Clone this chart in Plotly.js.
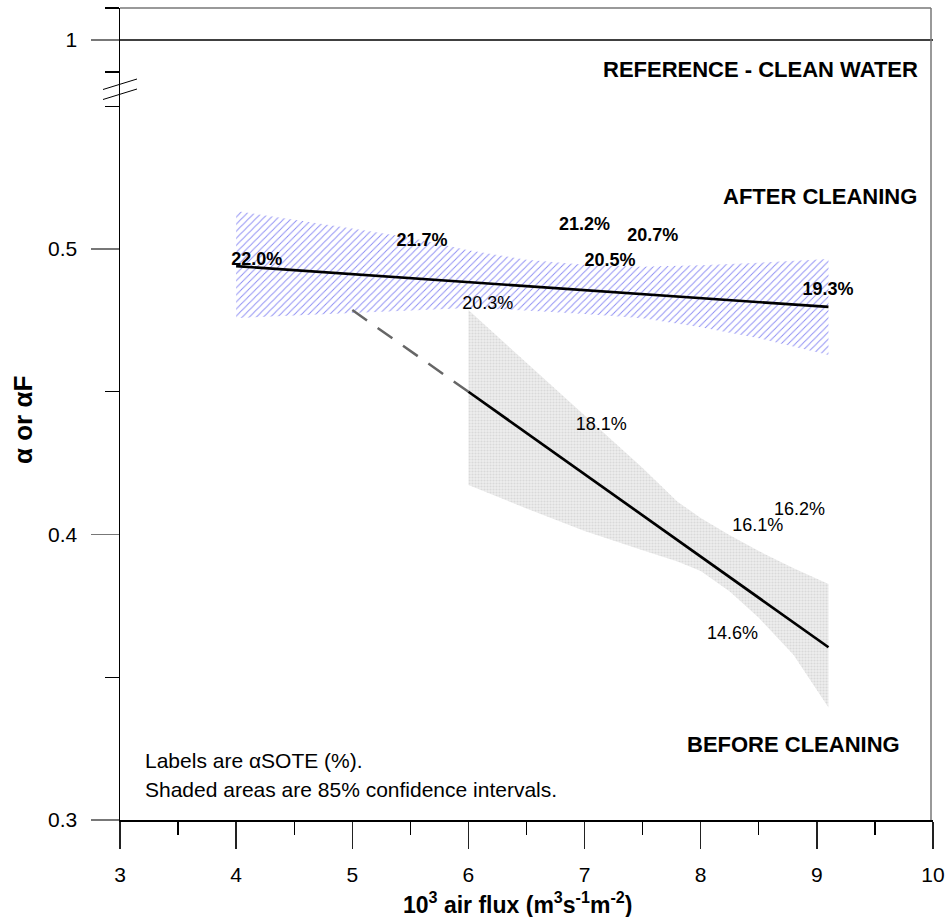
<!DOCTYPE html>
<html>
<head>
<meta charset="utf-8">
<script src="https://cdn.plot.ly/plotly-3.0.1.min.js"></script>
<style>
  html, body { margin: 0; padding: 0; background: #fff; }
  #chart { width: 948px; height: 917px; }
</style>
</head>
<body>
<div id="chart"></div>
<script>
// Air flux (10^3 m3 s-1 m-2) against alpha / alpha-F, before and after diffuser cleaning.

// Regression line after cleaning
const fluxAfterFit = [4, 9.1];
const alphaAfterFit = [0.494, 0.4797];

// Regression line before cleaning (solid over the data range, dashed extrapolation)
const fluxBeforeFit = [6, 9.1];
const alphaBeforeFit = [0.450, 0.3605];
const fluxBeforeExtrap = [5, 6];
const alphaBeforeExtrap = [0.4786, 0.450];

// 85% confidence band, after cleaning
const ciAfterFlux = [4, 4.5, 5, 5.5, 6, 6.5, 7, 7.5, 8, 8.5, 9.1];
const ciAfterUpper = [0.5133, 0.5103, 0.5072, 0.5039, 0.4996, 0.4962, 0.4945, 0.4938, 0.4943, 0.4952, 0.4965];
const ciAfterLower = [0.4758, 0.4767, 0.4776, 0.4785, 0.4793, 0.4785, 0.4772, 0.4757, 0.4726, 0.4687, 0.4629];

// 85% confidence band, before cleaning
const ciBeforeFlux = [6, 6.5, 7, 7.5, 7.8, 8, 8.25, 8.5, 8.8, 9.1];
const ciBeforeUpper = [0.4786, 0.4602, 0.4418, 0.4233, 0.4115, 0.4058, 0.3997, 0.3942, 0.3882, 0.3827];
const ciBeforeLower = [0.4173, 0.4091, 0.4012, 0.3945, 0.3905, 0.3872, 0.3800, 0.3708, 0.3578, 0.3394];

// alpha-SOTE labels (%)
const afterLabelText = ['22.0%', '21.7%', '21.2%', '20.7%', '20.5%', '19.3%'];
const afterLabelFlux = [4.177, 5.600, 7.000, 7.588, 7.219, 9.096];
const afterLabelAlpha = [0.4958, 0.5028, 0.5084, 0.5044, 0.4956, 0.4854];

const beforeLabelText = ['20.3%', '18.1%', '16.2%', '16.1%', '14.6%'];
const beforeLabelFlux = [6.167, 7.143, 8.851, 8.492, 8.274];
const beforeLabelAlpha = [0.4804, 0.4382, 0.4085, 0.4027, 0.3648];

// Clean-water reference
const referenceAlpha = 1;
const referenceFlux = [3, 10];

// Y ticks (values above the axis break are compressed)
const yTickValues = [0.3, 0.4, 0.5, 1];
const yTickLabels = ['0.3', '0.4', '0.5', '1'];
const yMinorValues = [0.35, 0.45, 0.55, 0.95, 1.05];

// Broken axis: values up to 0.6 are plotted as-is, values near 1 are shifted down.
const BREAK_POS = 0.5732;
const UPPER_SCALE = 0.2242;
function toAxis(v) {
  return v <= 0.6 ? v : BREAK_POS + (v - 1) * UPPER_SCALE;
}

const FONT = 'Liberation Sans, Arial, Helvetica, sans-serif';

function band(xs, up, lo) {
  return {
    x: xs.concat(xs.slice().reverse()),
    y: up.concat(lo.slice().reverse())
  };
}

const bandAfter = band(ciAfterFlux, ciAfterUpper, ciAfterLower);
const bandBefore = band(ciBeforeFlux, ciBeforeUpper, ciBeforeLower);

const traces = [
  {
    x: bandAfter.x, y: bandAfter.y, type: 'scatter', mode: 'lines',
    fill: 'toself', line: { width: 0, color: 'rgba(0,0,0,0)' },
    fillcolor: 'rgba(255,255,255,0)',
    fillpattern: { shape: '/', fgcolor: '#8a8af4', bgcolor: 'rgba(255,255,255,0)', size: 5, solidity: 0.18 },
    hoverinfo: 'skip', showlegend: false
  },
  {
    x: bandBefore.x, y: bandBefore.y, type: 'scatter', mode: 'lines',
    fill: 'toself', line: { width: 0, color: 'rgba(0,0,0,0)' },
    fillcolor: '#ececec',
    fillpattern: { shape: '.', fgcolor: '#d9d9d9', bgcolor: '#efefef', size: 3, solidity: 0.4 },
    hoverinfo: 'skip', showlegend: false
  },
  {
    x: referenceFlux, y: referenceFlux.map(() => toAxis(referenceAlpha)),
    type: 'scatter', mode: 'lines', line: { color: '#000', width: 1.5 },
    hoverinfo: 'skip', showlegend: false, cliponaxis: false
  },
  {
    x: fluxBeforeExtrap, y: alphaBeforeExtrap, type: 'scatter', mode: 'lines',
    line: { color: '#666', width: 2.5, dash: '18px,13px' },
    hoverinfo: 'skip', showlegend: false
  },
  {
    x: fluxAfterFit, y: alphaAfterFit, type: 'scatter', mode: 'lines',
    line: { color: '#000', width: 2.7 }, hoverinfo: 'skip', showlegend: false
  },
  {
    x: fluxBeforeFit, y: alphaBeforeFit, type: 'scatter', mode: 'lines',
    line: { color: '#000', width: 2.7 }, hoverinfo: 'skip', showlegend: false
  },
  {
    x: afterLabelFlux, y: afterLabelAlpha, text: afterLabelText,
    type: 'scatter', mode: 'text', textposition: 'middle center',
    textfont: { family: FONT, size: 18, color: '#000', weight: 'bold' },
    hoverinfo: 'skip', showlegend: false, cliponaxis: false
  },
  {
    x: beforeLabelFlux, y: beforeLabelAlpha, text: beforeLabelText,
    type: 'scatter', mode: 'text', textposition: 'middle center',
    textfont: { family: FONT, size: 18, color: '#000' },
    hoverinfo: 'skip', showlegend: false, cliponaxis: false
  }
];

// plot area: x 120..933 px, y 8..820 px
const PL = 120, PR = 933, PT = 8, PB = 820;
const px = v => (v - PL) / (PR - PL);
const py = v => (PB - v) / (PB - PT);

const layout = {
  width: 948, height: 917,
  margin: { l: PL, r: 948 - PR, t: PT, b: 917 - PB, pad: 0 },
  paper_bgcolor: '#fff', plot_bgcolor: '#fff',
  font: { family: FONT, color: '#000', size: 21 },
  xaxis: {
    range: [3, 10], tickmode: 'linear', tick0: 3, dtick: 1,
    ticks: 'outside', ticklen: 27, tickwidth: 1.3, tickcolor: '#222',
    minor: { dtick: 0.5, tick0: 3, ticks: 'outside', ticklen: 13, tickwidth: 1.3, tickcolor: '#000', showgrid: false },
    showline: true, linecolor: '#000', linewidth: 1.5,
    showgrid: false, zeroline: false,
    tickfont: { family: FONT, size: 21, color: '#000' },
    ticklabelstandoff: 8
  },
  yaxis: {
    range: [0.3, toAxis(1.05)],
    tickmode: 'array',
    tickvals: yTickValues.map(toAxis), ticktext: yTickLabels,
    ticks: 'outside', ticklen: 28, tickwidth: 1.5, tickcolor: '#777',
    minor: { tickmode: 'array', tickvals: yMinorValues.map(toAxis), ticks: 'outside', ticklen: 14, tickwidth: 1.3, tickcolor: '#000', showgrid: false },
    showline: true, linecolor: '#000', linewidth: 1.5,
    showgrid: false, zeroline: false,
    tickfont: { family: FONT, size: 21, color: '#000' },
    ticklabelstandoff: 9
  },
  shapes: [
    // frame: top and right edges
    { type: 'line', xref: 'paper', yref: 'paper', x0: 0, x1: px(931), y0: 1, y1: 1, line: { color: '#777', width: 1.5 } },
    { type: 'line', xref: 'paper', yref: 'paper', x0: px(931), x1: px(931), y0: 0, y1: 1, line: { color: '#777', width: 1.5 } },
    // axis break marks
    { type: 'line', xref: 'paper', yref: 'paper', x0: px(103), x1: px(137), y0: py(89.5), y1: py(79), line: { color: '#000', width: 1 } },
    { type: 'line', xref: 'paper', yref: 'paper', x0: px(103), x1: px(137), y0: py(99.5), y1: py(89), line: { color: '#000', width: 1 } }
  ],
  annotations: [
    { text: 'REFERENCE - CLEAN WATER', xref: 'paper', yref: 'paper', x: px(920), y: py(69),
      xanchor: 'right', yanchor: 'middle', showarrow: false,
      font: { family: FONT, size: 22, weight: 'bold', color: '#000' } },
    { text: 'AFTER CLEANING', xref: 'paper', yref: 'paper', x: px(919), y: py(196),
      xanchor: 'right', yanchor: 'middle', showarrow: false,
      font: { family: FONT, size: 22, weight: 'bold', color: '#000' } },
    { text: 'BEFORE CLEANING', xref: 'paper', yref: 'paper', x: px(902), y: py(744),
      xanchor: 'right', yanchor: 'middle', showarrow: false,
      font: { family: FONT, size: 22, weight: 'bold', color: '#000' } },
    { text: 'Labels are αSOTE (%).', xref: 'paper', yref: 'paper', x: px(143), y: py(760),
      xanchor: 'left', yanchor: 'middle', showarrow: false,
      font: { family: FONT, size: 21, color: '#000' } },
    { text: 'Shaded areas are 85% confidence intervals.', xref: 'paper', yref: 'paper', x: px(143), y: py(789),
      xanchor: 'left', yanchor: 'middle', showarrow: false,
      font: { family: FONT, size: 21, color: '#000' } },
    { text: 'α or αF', xref: 'paper', yref: 'paper', x: px(23), y: py(420),
      xanchor: 'center', yanchor: 'middle', textangle: -90, showarrow: false,
      font: { family: FONT, size: 26, weight: 'bold', color: '#000' } },
    { text: '10<sup>3</sup> air flux (m<sup>3</sup>s<sup>-1</sup>m<sup>-2</sup>)', xref: 'paper', yref: 'paper',
      x: px(517), y: py(903), xanchor: 'center', yanchor: 'middle', showarrow: false,
      font: { family: FONT, size: 23, weight: 'bold', color: '#000' } }
  ]
};

Plotly.newPlot('chart', traces, layout, { displayModeBar: false, staticPlot: true });
</script>
</body>
</html>
